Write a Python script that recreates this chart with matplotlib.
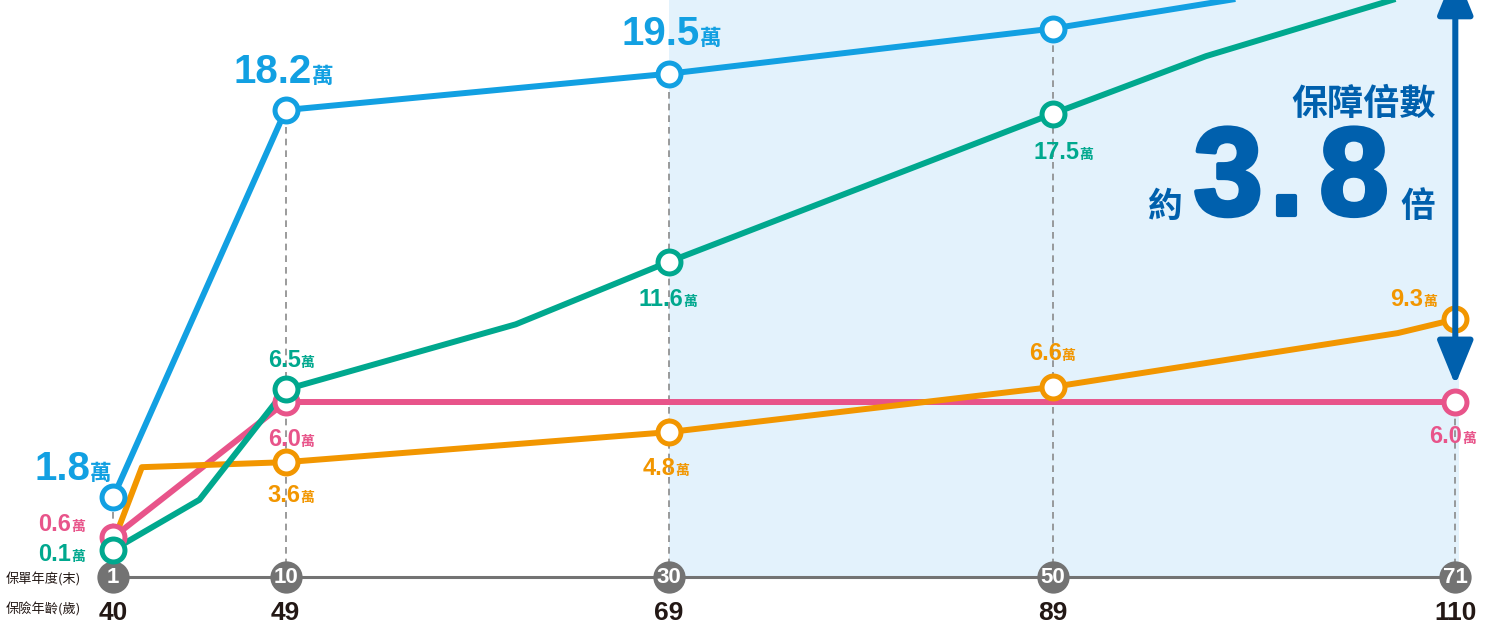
import matplotlib
matplotlib.use("Agg")
import matplotlib.pyplot as plt
import matplotlib.patheffects as pe

# %% data (values in 萬)

key_years = [1, 10, 30, 50, 71]
ages = [40, 49, 69, 89, 110]

# blue line is drawn not-to-scale in the original, heights read off the picture
blue_years = [1, 10, 30, 50, 71]
blue_vals = [2.2, 17.65, 19.1, 20.9, 23.5]
blue_labels = ["1.8", "18.2", "19.5"]

pink_years = [1, 10, 71]
pink_vals = [0.6, 6.0, 6.0]
pink_labels = ["0.6", "6.0", "6.0"]

green_years = [1, 5.5, 10, 22, 30, 50, 58, 71]
green_vals = [0.1, 2.1, 6.5, 9.1, 11.6, 17.5, 19.8, 22.8]
green_mark_years = [1, 10, 30, 50]
green_mark_vals = [0.1, 6.5, 11.6, 17.5]
green_labels = ["0.1", "6.5", "11.6", "17.5"]

orange_years = [1, 2.5, 10, 30, 50, 68, 71]
orange_vals = [0.4, 3.4, 3.6, 4.8, 6.6, 8.75, 9.3]
orange_mark_years = [10, 30, 50, 71]
orange_mark_vals = [3.6, 4.8, 6.6, 9.3]
orange_labels = ["3.6", "4.8", "6.6", "9.3"]

multiple = "3.8"

# %% style

BLUE = "#12a0e2"
PINK = "#e8548a"
GREEN = "#00a88e"
ORANGE = "#f29600"
NAVY = "#0060ad"
GRAY = "#737373"
SHADE = "#e3f2fc"
INK = "#231815"

NUM_FONT = ["Liberation Sans", "DejaVu Sans"]
CJK_FONT = ["Noto Sans CJK TC", "DejaVu Sans"]

BASE_Y = -0.98
PX = 0.72  # pixel -> points at dpi 100

fig = plt.figure(figsize=(14.94, 6.24), dpi=100)
ax = fig.add_axes([0, 0, 1, 1])
ax.axis("off")
ax.set_xlim(-4.90, 73.02)
ax.set_ylim(-2.857, 22.04)

# shaded zone from year 30
ax.fill_between([30, 71.2], BASE_Y, 23, color=SHADE, lw=0, zorder=0)

# dashed guides
guide_top = blue_vals[:4] + [pink_vals[-1]]
for yr, top in zip(key_years, guide_top):
    ax.plot([yr, yr], [BASE_Y, top], color="#8a8a8a", lw=1.2, ls=(0, (4, 3)), zorder=1)

# base axis
ax.plot([key_years[0], key_years[-1]], [BASE_Y, BASE_Y], color=GRAY, lw=2.2, zorder=2)
ax.scatter(key_years, [BASE_Y] * len(key_years), s=540, color=GRAY, zorder=3, linewidths=0)
for yr, ag in zip(key_years, ages):
    ax.text(yr, BASE_Y - 0.03, str(yr), ha="center", va="center", fontsize=16,
            fontweight="bold", color="white", family=NUM_FONT, zorder=4)
    ax.text(yr, -2.70, str(ag), ha="center", va="baseline", fontsize=19,
            fontweight="bold", color=INK, family=NUM_FONT)

ax.text(-4.6, -1.10, "保單年度(末)", ha="left", va="center", fontsize=9.5, color=INK, family=CJK_FONT)
ax.text(-4.6, -2.29, "保險年齡(歲)", ha="left", va="center", fontsize=9.5, color=INK, family=CJK_FONT)

# lines
lw = 4.3
ax.plot(pink_years, pink_vals, color=PINK, lw=lw, zorder=4, solid_capstyle="butt")
ax.plot(orange_years, orange_vals, color=ORANGE, lw=lw, zorder=4.1, solid_capstyle="butt")
ax.plot(green_years, green_vals, color=GREEN, lw=lw, zorder=4.2, solid_capstyle="butt")
ax.plot(blue_years, blue_vals, color=BLUE, lw=lw, zorder=4.3, solid_capstyle="butt")

mk = dict(marker="o", ms=16.5, mew=3.6, mfc="white", ls="none")
ax.plot(pink_years, pink_vals, mec=PINK, zorder=5, **mk)
ax.plot(orange_mark_years, orange_mark_vals, mec=ORANGE, zorder=5.1, **mk)
ax.plot(green_mark_years, green_mark_vals, mec=GREEN, zorder=5.2, **mk)
ax.plot(blue_years[:4], blue_vals[:4], mec=BLUE, zorder=5.3, **mk)


def put_label(x, y, num, dx, dy, color, big=False):
    off = (dx * PX, dy * PX)
    ax.annotate(num, (x, y), xytext=off, textcoords="offset points", ha="right",
                va="baseline", fontsize=29 if big else 17, fontweight="bold",
                color=color, family=NUM_FONT, zorder=7)
    ax.annotate("萬", (x, y), xytext=off, textcoords="offset points", ha="left",
                va="baseline", fontsize=15.5 if big else 10, fontweight="bold",
                color=color, family=CJK_FONT, zorder=7)


for yr, v, lab, (dx, dy) in zip(blue_years, blue_vals, blue_labels,
                                [(-23, 17), (26, 27), (31, 29)]):
    put_label(yr, v, lab, dx, dy, BLUE, big=True)
for yr, v, lab, (dx, dy) in zip(pink_years, pink_vals, pink_labels,
                                [(-42, 6), (15, -44), (7, -41)]):
    put_label(yr, v, lab, dx, dy, PINK)
for yr, v, lab, (dx, dy) in zip(green_mark_years, green_mark_vals, green_labels,
                                [(-42, -11), (15, 22), (14, -44), (27, -45)]):
    put_label(yr, v, lab, dx, dy, GREEN)
for yr, v, lab, (dx, dy) in zip(orange_mark_years, orange_mark_vals, orange_labels,
                                [(15, -40), (6, -43), (9, 27), (-32, 13)]):
    put_label(yr, v, lab, dx, dy, ORANGE)

# multiple arrow
ax.annotate("", xy=(71, 6.68), xytext=(71, 23.2),
            arrowprops=dict(arrowstyle="<|-|>,head_length=1.35,head_width=0.55",
                            lw=4.3, color=NAVY, shrinkA=0, shrinkB=0,
                            mutation_scale=20),
            zorder=6)

ax.text(69.97, 17.46, "保障倍數", ha="right", va="baseline", fontsize=26,
        fontweight="bold", color=NAVY, family=CJK_FONT)
ax.text(55.86, 13.39, "約", ha="center", va="baseline", fontsize=25,
        fontweight="bold", color=NAVY, family=CJK_FONT)
ax.text(69.05, 13.39, "倍", ha="center", va="baseline", fontsize=25,
        fontweight="bold", color=NAVY, family=CJK_FONT)
thick = [pe.withStroke(linewidth=3, foreground=NAVY)]
for ch, xc in zip(multiple, [59.15, 62.2, 65.72]):
    ax.text(xc, 13.47, ch, ha="center", va="baseline", fontsize=90,
            fontweight="bold", color=NAVY, family=NUM_FONT, path_effects=thick)

fig.savefig("out.png", dpi=100)
